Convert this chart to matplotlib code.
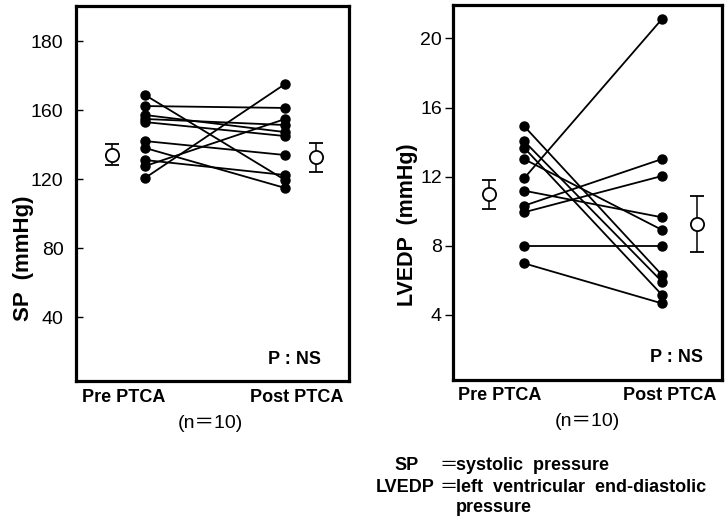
import matplotlib
matplotlib.use("Agg")
import matplotlib.pyplot as plt

# --- data ---
# SP (mmHg), paired pre / post PTCA (n = 10)
sp_pre = [168.7, 162.3, 157.1, 154.8, 153.0, 142.0, 138.0, 131.0, 127.5, 120.6]
sp_post = [119.4, 161.2, 147.2, 151.3, 144.9, 133.9, 114.8, 122.3, 154.8, 175.1]
sp_mean = [134.0, 132.5]
sp_err = [6.1, 8.4]
# the printed axis is labelled 40, 80, 120, 160, 180 at equal spacing
sp_ticks = [40, 80, 120, 160, 200]
sp_ticklabels = ["40", "80", "120", "160", "180"]

# LVEDP (mmHg)
lv_pre = [14.93, 14.06, 13.68, 13.02, 11.90, 11.19, 10.32, 9.94, 8.01, 6.99]
lv_post = [6.31, 5.93, 5.16, 8.92, 21.12, 9.65, 13.02, 12.04, 8.01, 4.67]
lv_mean = [10.98, 9.26]
lv_err = [0.84, 1.62]
lv_ticks = [4, 8, 12, 16, 20]

sans = ["Liberation Sans", "Noto Sans CJK JP", "DejaVu Sans"]

W, H = 725, 521
fig = plt.figure(figsize=(W / 100, H / 100), dpi=100)


def px_axes(x0, y0, x1, y1):
    return fig.add_axes([x0 / W, 1 - y1 / H, (x1 - x0) / W, (y1 - y0) / H])


def ftext(x, y, s, **kw):
    kw.setdefault("family", sans)
    fig.text(x / W, 1 - y / H, s, **kw)


def draw_panel(ax, pre, post, mean, err, xs):
    x_mpre, x_pre, x_post, x_mpost = xs
    for a, b in zip(pre, post):
        ax.plot([x_pre, x_post], [a, b], color="black", lw=1.3,
                marker="o", ms=6.5, mfc="black", mec="black", zorder=3)
    ax.errorbar([x_mpre, x_mpost], mean, yerr=err, fmt="o", ms=9.5,
                mfc="white", mec="black", mew=1.3, ecolor="black",
                elinewidth=1.1, capsize=5, capthick=1.1, zorder=4)
    ax.set_xlim(0, 1)
    ax.set_xticks([])
    for s in ax.spines.values():
        s.set_linewidth(2.3)


# left panel: SP
ax1 = px_axes(76, 6, 349, 381)
draw_panel(ax1, sp_pre, sp_post, sp_mean, sp_err, (0.132, 0.253, 0.766, 0.879))
ax1.set_ylim(2.9, 220.3)
ax1.set_yticks(sp_ticks)
ax1.set_yticklabels(sp_ticklabels, family=sans, fontsize=14)
ax1.tick_params(axis="y", direction="in", length=5, width=1, pad=9)

# right panel: LVEDP
ax2 = px_axes(453, 5, 722, 380)
draw_panel(ax2, lv_pre, lv_post, lv_mean, lv_err, (0.134, 0.264, 0.777, 0.907))
ax2.set_ylim(0.24, 21.93)
ax2.set_yticks(lv_ticks)
ax2.set_yticklabels([str(t) for t in lv_ticks], family=sans, fontsize=14)
ax2.tick_params(axis="y", direction="out", length=6, width=1, pad=2)

# axis titles
ftext(23, 258, "SP  (mmHg)", rotation=90, fontsize=16, fontweight="bold",
      ha="center", va="center")
ftext(408, 225, "LVEDP  (mmHg)", rotation=90, fontsize=15.5, fontweight="bold",
      ha="center", va="center")

# category labels
ftext(124, 398, "Pre PTCA", fontsize=13, fontweight="bold", ha="center", va="center")
ftext(297, 398, "Post PTCA", fontsize=13, fontweight="bold", ha="center", va="center")
ftext(210, 423, "(n\uff1d10)", fontsize=14, ha="center", va="center")
ftext(500, 395, "Pre PTCA", fontsize=13, fontweight="bold", ha="center", va="center")
ftext(670, 395, "Post PTCA", fontsize=13, fontweight="bold", ha="center", va="center")
ftext(587, 422, "(n\uff1d10)", fontsize=14, ha="center", va="center")

ftext(295, 359, "P : NS", fontsize=13, fontweight="bold", ha="center", va="center")
ftext(676, 357, "P : NS", fontsize=13, fontweight="bold", ha="center", va="center")

# footnote
ftext(407, 466, "SP", fontsize=13, fontweight="bold", ha="center", va="center")
ftext(405, 487, "LVEDP", fontsize=13, fontweight="bold", ha="center", va="center")
ftext(448, 466, "\uff1d", fontsize=13, ha="center", va="center")
ftext(448, 487, "\uff1d", fontsize=13, ha="center", va="center")
ftext(456, 466, "systolic  pressure", fontsize=13, fontweight="bold",
      ha="left", va="center")
ftext(456, 487, "left  ventricular  end-diastolic", fontsize=13, fontweight="bold",
      ha="left", va="center")
ftext(456, 508, "pressure", fontsize=13, fontweight="bold", ha="left", va="center")

fig.savefig("out.png", dpi=100)
